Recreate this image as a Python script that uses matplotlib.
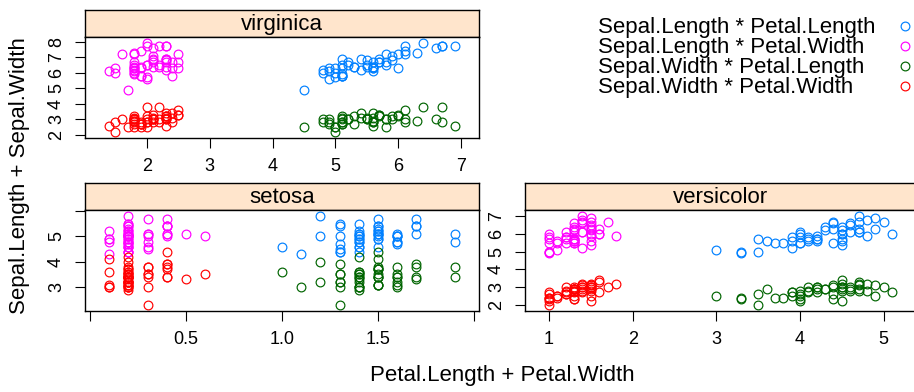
import matplotlib.pyplot as plt

# =========================
# IRIS DATA (per species)
# =========================

setosa_sepal_length = [5.1, 4.9, 4.7, 4.6, 5.0, 5.4, 4.6, 5.0, 4.4, 4.9, 5.4, 4.8, 4.8, 4.3, 5.8, 5.7, 5.4,
                       5.1, 5.7, 5.1, 5.4, 5.1, 4.6, 5.1, 4.8, 5.0, 5.0, 5.2, 5.2, 4.7, 4.8, 5.4, 5.2, 5.5,
                       4.9, 5.0, 5.5, 4.9, 4.4, 5.1, 5.0, 4.5, 4.4, 5.0, 5.1, 4.8, 5.1, 4.6, 5.3, 5.0]
setosa_sepal_width = [3.5, 3.0, 3.2, 3.1, 3.6, 3.9, 3.4, 3.4, 2.9, 3.1, 3.7, 3.4, 3.0, 3.0, 4.0, 4.4, 3.9,
                      3.5, 3.8, 3.8, 3.4, 3.7, 3.6, 3.3, 3.4, 3.0, 3.4, 3.5, 3.4, 3.2, 3.1, 3.4, 4.1, 4.2,
                      3.1, 3.2, 3.5, 3.6, 3.0, 3.4, 3.5, 2.3, 3.2, 3.5, 3.8, 3.0, 3.8, 3.2, 3.7, 3.3]
setosa_petal_length = [1.4, 1.4, 1.3, 1.5, 1.4, 1.7, 1.4, 1.5, 1.4, 1.5, 1.5, 1.6, 1.4, 1.1, 1.2, 1.5, 1.3,
                       1.4, 1.7, 1.5, 1.7, 1.5, 1.0, 1.7, 1.9, 1.6, 1.6, 1.5, 1.4, 1.6, 1.6, 1.5, 1.5, 1.4,
                       1.5, 1.2, 1.3, 1.4, 1.3, 1.5, 1.3, 1.3, 1.3, 1.6, 1.9, 1.4, 1.6, 1.4, 1.5, 1.4]
setosa_petal_width = [0.2, 0.2, 0.2, 0.2, 0.2, 0.4, 0.3, 0.2, 0.2, 0.1, 0.2, 0.2, 0.1, 0.1, 0.2, 0.4, 0.4,
                      0.3, 0.3, 0.3, 0.2, 0.4, 0.2, 0.5, 0.2, 0.2, 0.4, 0.2, 0.2, 0.2, 0.2, 0.4, 0.1, 0.2,
                      0.2, 0.2, 0.2, 0.1, 0.2, 0.2, 0.3, 0.3, 0.2, 0.6, 0.4, 0.3, 0.2, 0.2, 0.2, 0.2]

versicolor_sepal_length = [7.0, 6.4, 6.9, 5.5, 6.5, 5.7, 6.3, 4.9, 6.6, 5.2, 5.0, 5.9, 6.0, 6.1, 5.6, 6.7,
                           5.6, 5.8, 6.2, 5.6, 5.9, 6.1, 6.3, 6.1, 6.4, 6.6, 6.8, 6.7, 6.0, 5.7, 5.5, 5.5,
                           5.8, 6.0, 5.4, 6.0, 6.7, 6.3, 5.6, 5.5, 5.5, 6.1, 5.8, 5.0, 5.6, 5.7, 5.7, 6.2,
                           5.1, 5.7]
versicolor_sepal_width = [3.2, 3.2, 3.1, 2.3, 2.8, 2.8, 3.3, 2.4, 2.9, 2.7, 2.0, 3.0, 2.2, 2.9, 2.9, 3.1,
                          3.0, 2.7, 2.2, 2.5, 3.2, 2.8, 2.5, 2.8, 2.9, 3.0, 2.8, 3.0, 2.9, 2.6, 2.4, 2.4,
                          2.7, 2.7, 3.0, 3.4, 3.1, 2.3, 3.0, 2.5, 2.6, 3.0, 2.6, 2.3, 2.7, 3.0, 2.9, 2.9,
                          2.5, 2.8]
versicolor_petal_length = [4.7, 4.5, 4.9, 4.0, 4.6, 4.5, 4.7, 3.3, 4.6, 3.9, 3.5, 4.2, 4.0, 4.7, 3.6, 4.4,
                           4.5, 4.1, 4.5, 3.9, 4.8, 4.0, 4.9, 4.7, 4.3, 4.4, 4.8, 5.0, 4.5, 3.5, 3.8, 3.7,
                           3.9, 5.1, 4.5, 4.5, 4.7, 4.4, 4.1, 4.0, 4.4, 4.6, 4.0, 3.3, 4.2, 4.2, 4.2, 4.3,
                           3.0, 4.1]
versicolor_petal_width = [1.4, 1.5, 1.5, 1.3, 1.5, 1.3, 1.6, 1.0, 1.3, 1.4, 1.0, 1.5, 1.0, 1.4, 1.3, 1.4,
                          1.5, 1.0, 1.5, 1.1, 1.8, 1.3, 1.5, 1.2, 1.3, 1.4, 1.4, 1.7, 1.5, 1.0, 1.1, 1.0,
                          1.2, 1.6, 1.5, 1.6, 1.5, 1.3, 1.3, 1.3, 1.2, 1.4, 1.2, 1.0, 1.3, 1.2, 1.3, 1.3,
                          1.1, 1.3]

virginica_sepal_length = [6.3, 5.8, 7.1, 6.3, 6.5, 7.6, 4.9, 7.3, 6.7, 7.2, 6.5, 6.4, 6.8, 5.7, 5.8, 6.4,
                          6.5, 7.7, 7.7, 6.0, 6.9, 5.6, 7.7, 6.3, 6.7, 7.2, 6.2, 6.1, 6.4, 7.2, 7.4, 7.9,
                          6.4, 6.3, 6.1, 7.7, 6.3, 6.4, 6.0, 6.9, 6.7, 6.9, 5.8, 6.8, 6.7, 6.7, 6.3, 6.5,
                          6.2, 5.9]
virginica_sepal_width = [3.3, 2.7, 3.0, 2.9, 3.0, 3.0, 2.5, 2.9, 2.5, 3.6, 3.2, 2.7, 3.0, 2.5, 2.8, 3.2,
                         3.0, 3.8, 2.6, 2.2, 3.2, 2.8, 2.8, 2.7, 3.3, 3.2, 2.8, 3.0, 2.8, 3.0, 2.8, 3.8,
                         2.8, 2.8, 2.6, 3.0, 3.4, 3.1, 3.0, 3.1, 3.1, 3.1, 2.7, 3.2, 3.3, 3.0, 2.5, 3.0,
                         3.4, 3.0]
virginica_petal_length = [6.0, 5.1, 5.9, 5.6, 5.8, 6.6, 4.5, 6.3, 5.8, 6.1, 5.1, 5.3, 5.5, 5.0, 5.1, 5.3,
                          5.5, 6.7, 6.9, 5.0, 5.7, 4.9, 6.7, 4.9, 5.7, 6.0, 4.8, 4.9, 5.6, 5.8, 6.1, 6.4,
                          5.6, 5.1, 5.6, 6.1, 5.6, 5.5, 4.8, 5.4, 5.6, 5.1, 5.1, 5.9, 5.7, 5.2, 5.0, 5.2,
                          5.4, 5.1]
virginica_petal_width = [2.5, 1.9, 2.1, 1.8, 2.2, 2.1, 1.7, 1.8, 1.8, 2.5, 2.0, 1.9, 2.1, 2.0, 2.4, 2.3,
                         1.8, 2.2, 2.3, 1.5, 2.3, 2.0, 2.0, 1.8, 2.1, 1.8, 1.8, 1.8, 2.1, 1.6, 1.9, 2.0,
                         2.2, 1.5, 1.4, 2.3, 2.4, 1.8, 1.8, 2.1, 2.4, 2.3, 1.9, 2.3, 2.5, 2.3, 1.9, 2.0,
                         2.3, 1.8]

GROUP_LABELS = [
    "Sepal.Length * Petal.Length",
    "Sepal.Length * Petal.Width",
    "Sepal.Width * Petal.Length",
    "Sepal.Width * Petal.Width",
]
GROUP_COLORS = ["#0080ff", "#ff00ff", "#006400", "#ff0000"]

# =========================
# FIGURE SETUP
# =========================

plt.rcParams["font.family"] = ["Liberation Sans", "DejaVu Sans"]

W, H = 914, 392
fig = plt.figure(figsize=(W / 100, H / 100), dpi=100)

STRIP_COLOR = "#ffe5cc"
BASE_SIZE = 16
TICK_SIZE = 13


def px_axes(x0, y0, x1, y1):
    # pixel box (top-left origin) -> figure fraction axes
    return fig.add_axes([x0 / W, 1 - y1 / H, (x1 - x0) / W, (y1 - y0) / H])


def padded(values):
    lo, hi = min(values), max(values)
    ext = (hi - lo) * 0.07
    return lo - ext, hi + ext


def draw_panel(name, sl, sw, pl, pw, box, xticks, xlabels, yticks, ylabels):

    x0, x1, top, mid, bottom = box

    # strip
    strip = px_axes(x0, top, x1, mid)
    strip.set_facecolor(STRIP_COLOR)
    strip.set_xticks([])
    strip.set_yticks([])
    for sp in strip.spines.values():
        sp.set_linewidth(1.0)
    strip.text(0.5, 0.45, name, ha="center", va="center",
               fontsize=BASE_SIZE, transform=strip.transAxes)

    # panel
    ax = px_axes(x0, mid, x1, bottom)
    pairs = [(pl, sl), (pw, sl), (pl, sw), (pw, sw)]
    for (x, y), col in zip(pairs, GROUP_COLORS):
        ax.plot(x, y, linestyle="none", marker="o", mfc="none",
                mec=col, ms=6.3, mew=0.85)

    ax.set_xlim(padded(pl + pw))
    ax.set_ylim(padded(sl + sw))

    ax.set_xticks(xticks)
    ax.set_xticklabels(xlabels)
    ax.set_yticks(yticks)
    ax.set_yticklabels(ylabels, rotation=90, va="center")

    ax.tick_params(length=7.5, width=0.8, pad=7, labelsize=TICK_SIZE)
    for sp in ax.spines.values():
        sp.set_linewidth(1.0)

    return ax


# =========================
# PANELS
# =========================

draw_panel(
    "virginica",
    virginica_sepal_length, virginica_sepal_width,
    virginica_petal_length, virginica_petal_width,
    (85, 479, 10, 37, 138),
    [2, 3, 4, 5, 6, 7], ["2", "3", "4", "5", "6", "7"],
    [2, 3, 4, 5, 6, 7, 8], ["2", "3", "4", "5", "6", "7", "8"],
)

draw_panel(
    "setosa",
    setosa_sepal_length, setosa_sepal_width,
    setosa_petal_length, setosa_petal_width,
    (85, 479, 183, 210, 311),
    [0.0, 0.5, 1.0, 1.5, 2.0], ["", "0.5", "1.0", "1.5", ""],
    [3, 4, 5, 6], ["3", "4", "5", ""],
)

draw_panel(
    "versicolor",
    versicolor_sepal_length, versicolor_sepal_width,
    versicolor_petal_length, versicolor_petal_width,
    (525, 916, 183, 210, 311),
    [1, 2, 3, 4, 5], ["1", "2", "3", "4", "5"],
    [2, 3, 4, 5, 6, 7], ["2", "3", "4", "5", "6", "7"],
)

# =========================
# AXIS LABELS
# =========================

fig.text(502 / W, 1 - 375.5 / H, "Petal.Length + Petal.Width",
         ha="center", va="center", fontsize=BASE_SIZE)
fig.text(20 / W, 1 - 176 / H, "Sepal.Length + Sepal.Width",
         ha="center", va="center", rotation=90, fontsize=BASE_SIZE)

# =========================
# KEY
# =========================

key = fig.add_axes([0, 0, 1, 1], facecolor="none")
key.set_xlim(0, W)
key.set_ylim(H, 0)
key.axis("off")

for i, (label, col) in enumerate(zip(GROUP_LABELS, GROUP_COLORS)):
    baseline = 33.3 + 20 * i
    key.text(598, baseline, label, ha="left", va="baseline", fontsize=BASE_SIZE)
    key.plot([905], [baseline - 7.5], linestyle="none", marker="o",
             mfc="none", mec=col, ms=6.3, mew=0.85)

fig.savefig("out.png", dpi=100)
